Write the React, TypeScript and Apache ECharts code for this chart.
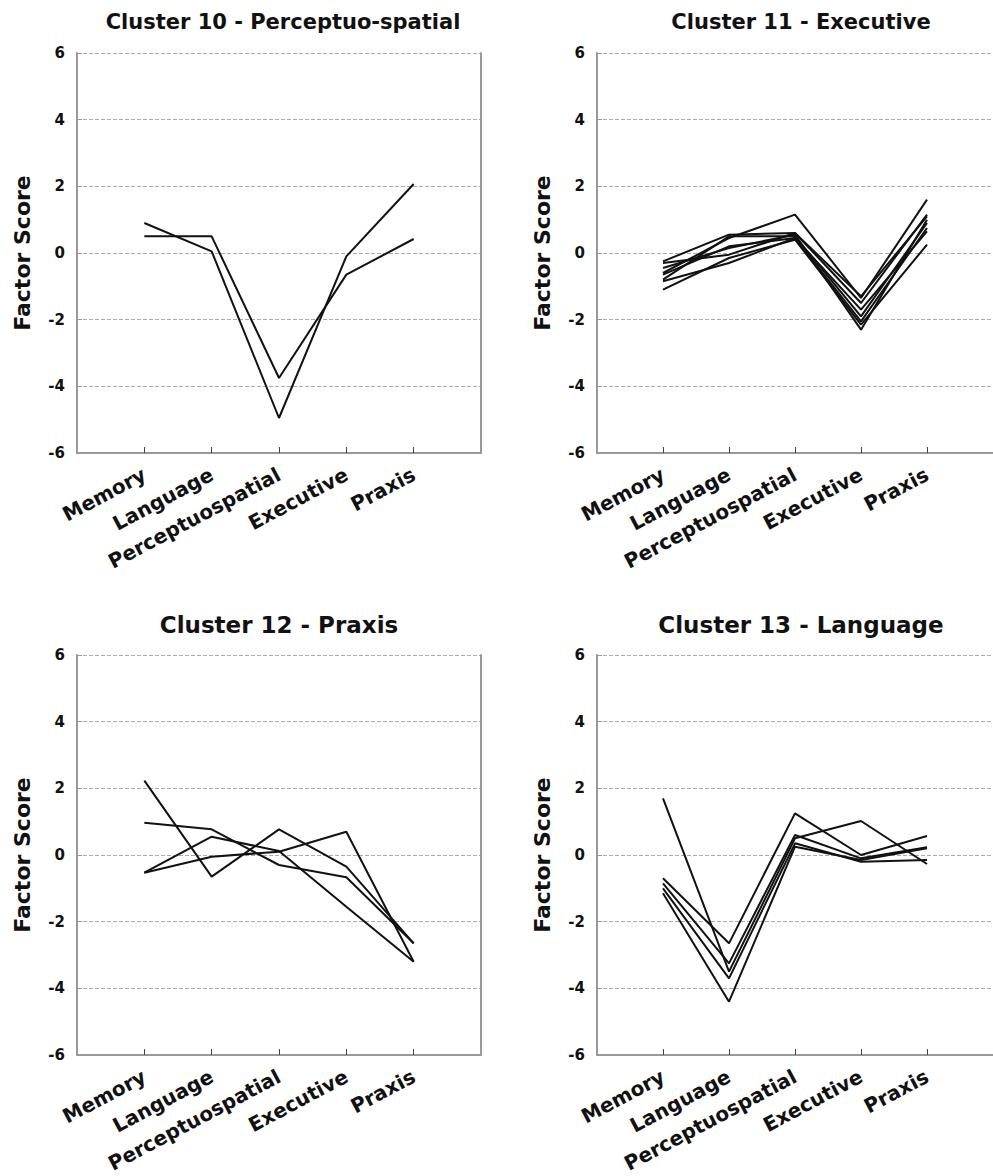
import React, { useEffect, useRef } from "react";
import * as echarts from "echarts";

const CATEGORIES = ["Memory", "Language", "Perceptuospatial", "Executive", "Praxis"];
const Y_MIN = -6;
const Y_MAX = 6;
const Y_STEP = 2;

const TITLES = [
  "Cluster 10 - Perceptuo-spatial",
  "Cluster 11 - Executive",
  "Cluster 12 - Praxis",
  "Cluster 13 - Language",
];

// Cluster 10 - Perceptuo-spatial
const CLUSTER10 = [
  [0.9, 0.05, -4.95, -0.1, 2.07],
  [0.5, 0.5, -3.75, -0.65, 0.42],
];

// Cluster 11 - Executive
const CLUSTER11 = [
  [-0.6, 0.45, 1.15, -1.35, 1.6],
  [-0.25, 0.55, 0.6, -1.5, 1.15],
  [-0.45, 0.15, 0.55, -2.3, 1.0],
  [-0.85, -0.3, 0.45, -1.7, 0.65],
  [-1.1, -0.15, 0.4, -2.15, 0.25],
  [-0.3, -0.05, 0.6, -1.3, 1.1],
  [-0.8, 0.5, 0.5, -1.9, 0.9],
  [-0.65, 0.2, 0.45, -2.05, 0.75],
];

// Cluster 12 - Praxis
const CLUSTER12 = [
  [2.23, -0.65, 0.77, -0.35, -2.65],
  [0.97, 0.77, -0.3, -0.67, -2.65],
  [-0.53, 0.55, 0.12, -1.55, -3.2],
  [-0.53, -0.05, 0.1, 0.7, -3.2],
];

// Cluster 13 - Language
const CLUSTER13 = [
  [1.7, -3.5, 0.5, 1.02, -0.27],
  [-0.7, -2.65, 1.25, 0.0, 0.57],
  [-0.85, -3.25, 0.6, -0.1, 0.23],
  [-1.0, -3.7, 0.35, -0.2, -0.15],
  [-1.15, -4.4, 0.25, -0.15, 0.2],
];

const FONT = "DejaVu Sans";

const PANELS = [
  { title: TITLES[0], lines: CLUSTER10, left: 77, top: 53, tx: 283, ty: 11, ts: 21, border: true },
  { title: TITLES[1], lines: CLUSTER11, left: 597, top: 53, tx: 801, ty: 11, ts: 21, border: false },
  { title: TITLES[2], lines: CLUSTER12, left: 77, top: 655, tx: 279, ty: 613, ts: 23, border: true },
  { title: TITLES[3], lines: CLUSTER13, left: 597, top: 655, tx: 801, ty: 613, ts: 23, border: false },
];

const GRID_W = 404;
const GRID_H = 400;

export default function App() {
  const ref = useRef<HTMLDivElement>(null);

  useEffect(() => {
    document.body.style.margin = "0";
    if (!ref.current) return;
    const chart = echarts.init(ref.current, undefined, { renderer: "svg" });

    const grid: any[] = [];
    const xAxis: any[] = [];
    const yAxis: any[] = [];
    const series: any[] = [];
    const title: any[] = [];

    PANELS.forEach((p, i) => {
      grid.push({ left: p.left, top: p.top, width: GRID_W, height: GRID_H, containLabel: false });
      title.push({
        text: p.title,
        left: p.tx,
        top: p.ty,
        textAlign: "center",
        padding: 0,
        textStyle: { fontFamily: FONT, fontWeight: "bold", fontSize: p.ts, color: "#111" },
      });
      xAxis.push({
        type: "value",
        gridIndex: i,
        min: 0,
        max: CATEGORIES.length + 1,
        interval: 1,
        axisLine: { show: true, onZero: false, lineStyle: { color: "#999", width: 2 } },
        axisTick: { show: true, inside: true, length: 6, lineStyle: { color: "#444", width: 1 } },
        splitLine: { show: false },
        axisLabel: {
          rotate: 28,
          margin: 20,
          fontFamily: FONT,
          fontWeight: "bold",
          fontSize: 20,
          color: "#111",
          showMinLabel: false,
          showMaxLabel: false,
          formatter: (v: number) => CATEGORIES[v - 1] ?? "",
        },
      });
      yAxis.push({
        type: "value",
        gridIndex: i,
        min: Y_MIN,
        max: Y_MAX,
        interval: Y_STEP,
        name: "Factor Score",
        nameLocation: "middle",
        nameGap: 44,
        nameTextStyle: { fontFamily: FONT, fontWeight: "bold", fontSize: 22, color: "#111" },
        axisLine: { show: true, lineStyle: { color: "#999", width: 2 } },
        axisTick: { show: true, inside: true, length: 5, lineStyle: { color: "#999" } },
        axisLabel: { margin: 12, fontFamily: FONT, fontWeight: "bold", fontSize: 15, color: "#111" },
        splitLine: { show: true, lineStyle: { color: "#aaa", type: [4, 2], width: 1 } },
      });
      yAxis.push({
        type: "value",
        gridIndex: i,
        position: "right",
        min: Y_MIN,
        max: Y_MAX,
        interval: Y_STEP,
        axisLine: { show: p.border, lineStyle: { color: "#999", width: 2 } },
        axisTick: { show: false },
        axisLabel: { show: false },
        splitLine: { show: false },
      });
      p.lines.forEach((vals) => {
        series.push({
          type: "line",
          xAxisIndex: i,
          yAxisIndex: i * 2,
          data: vals.map((v, j) => [j + 1, v]),
          showSymbol: false,
          symbol: "none",
          lineStyle: { color: "#111", width: 2 },
          silent: true,
        });
      });
    });

    chart.setOption({
      animation: false,
      backgroundColor: "#fff",
      title,
      grid,
      xAxis,
      yAxis,
      series,
    });

    return () => chart.dispose();
  }, []);

  return (
    <div
      ref={ref}
      style={{ position: "absolute", left: 0, top: 0, width: 993, height: 1176, overflow: "hidden" }}
    />
  );
}
